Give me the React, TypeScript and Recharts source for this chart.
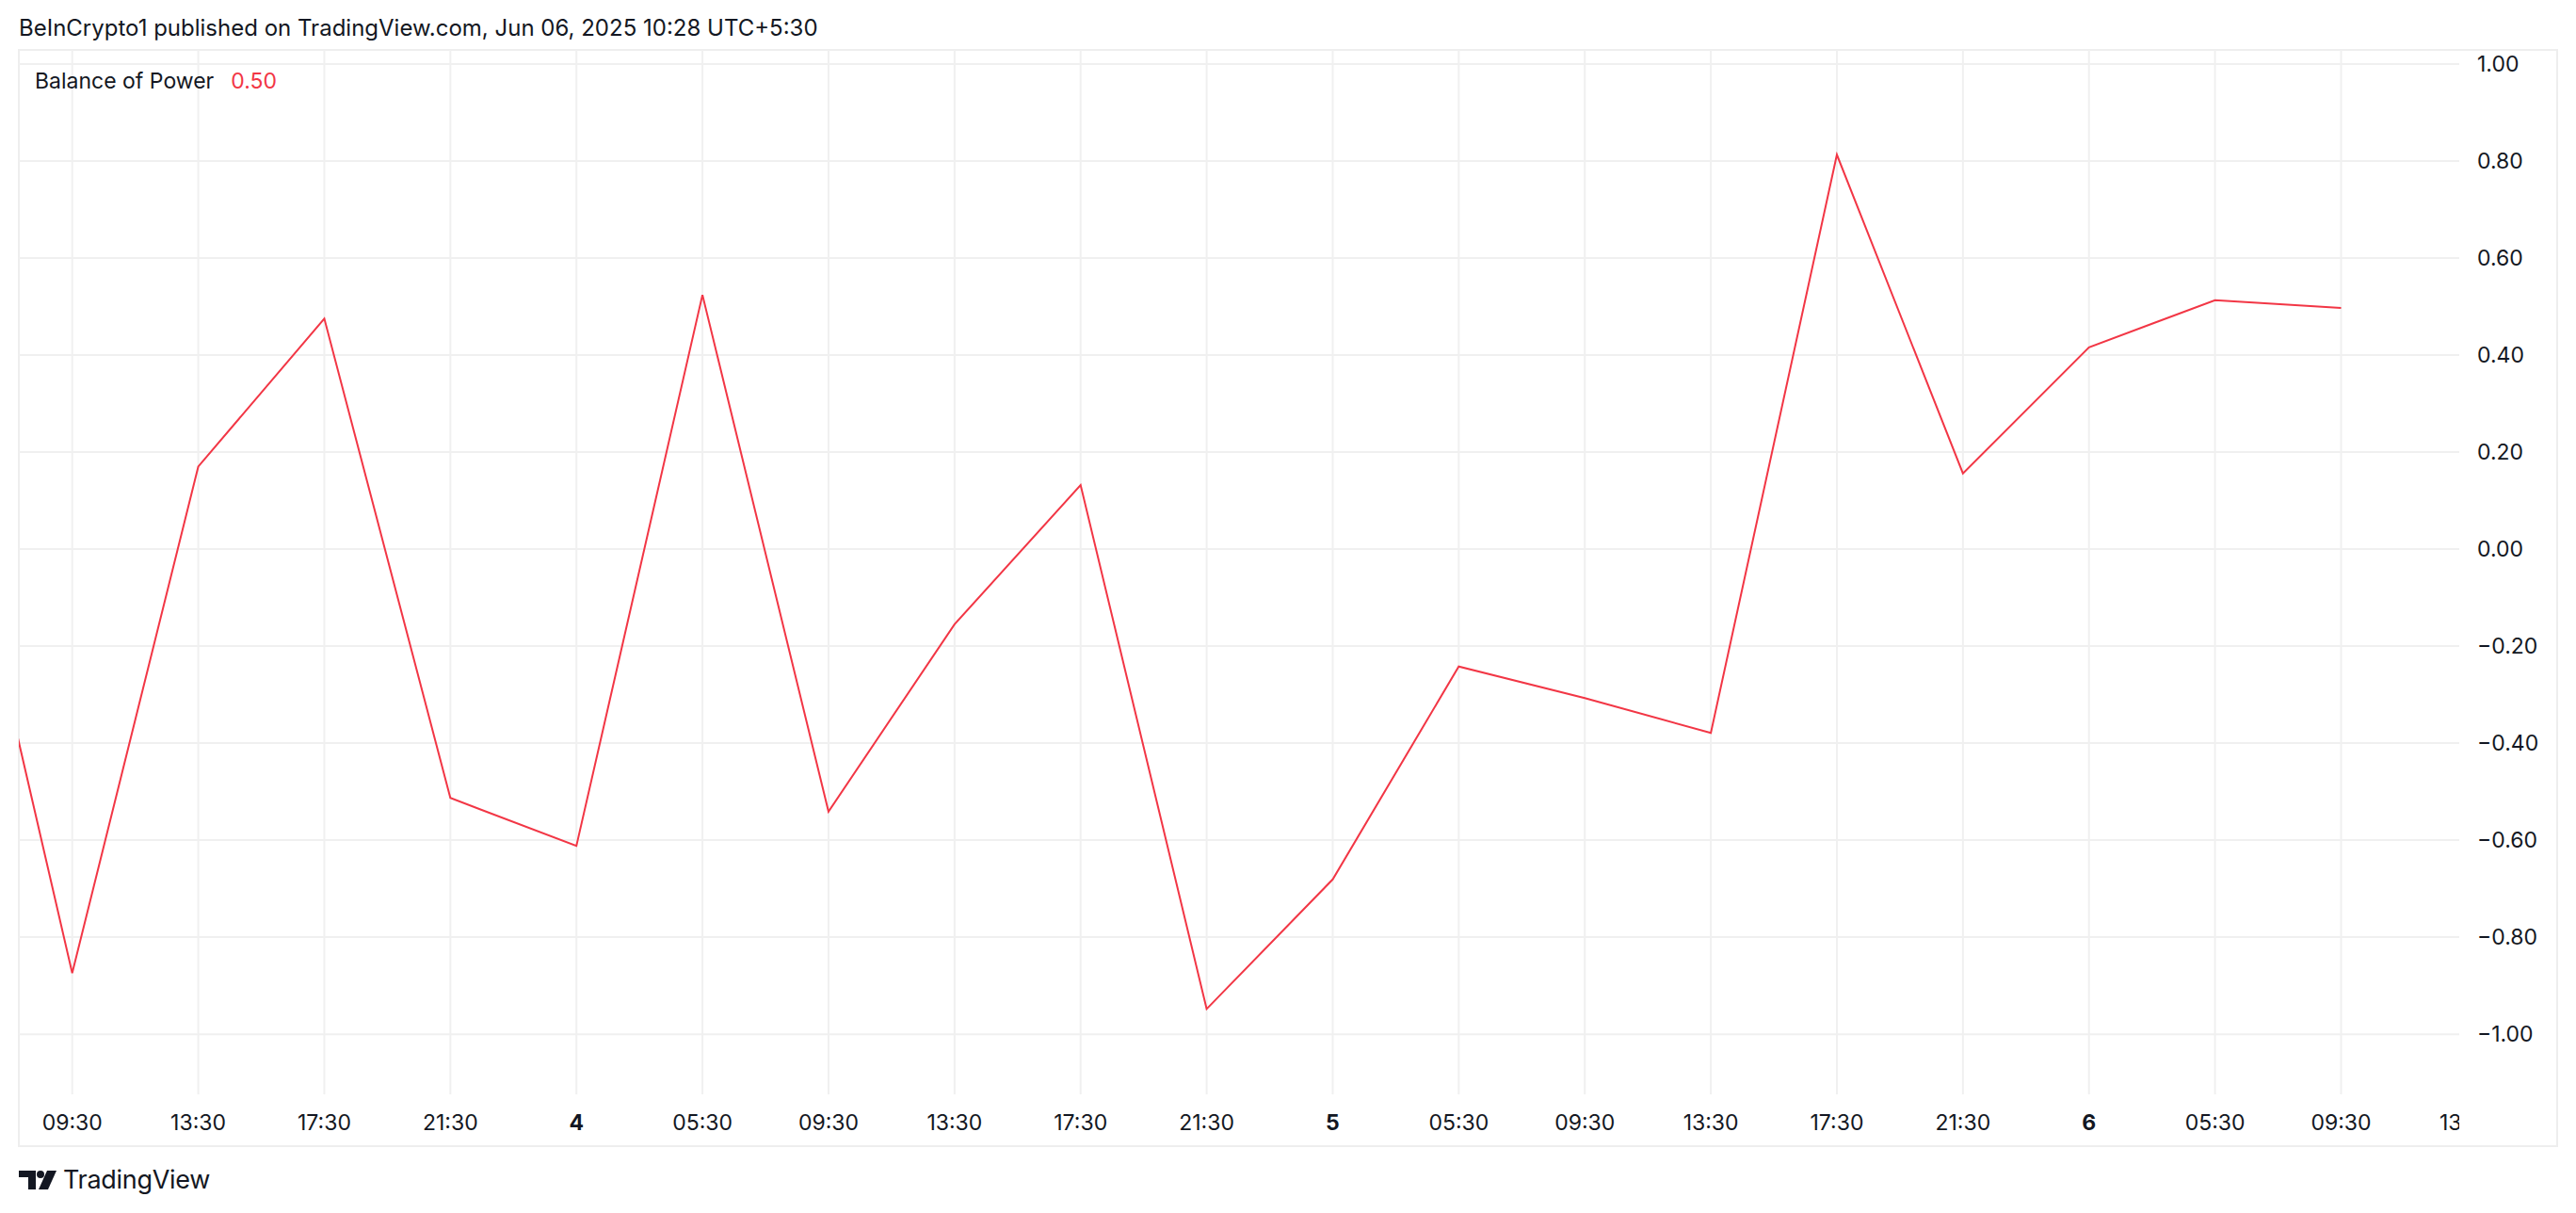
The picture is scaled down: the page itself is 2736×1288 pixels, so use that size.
import { LineChart, Line, XAxis, YAxis, ReferenceLine } from "recharts";

// 4h bars, hours counted from 09:30 on the 3rd (first bar sits just off the left edge)
const hours = [-4, 0, 4, 8, 12, 16, 20, 24, 28, 32, 36, 40, 44, 48, 52, 56, 60, 64, 68, 72];
const balance = [
  0.25, -0.874, 0.17, 0.475, -0.513, -0.612, 0.524, -0.541, -0.155, 0.132, -0.948, -0.681, -0.242, -0.307, -0.379,
  0.813, 0.156, 0.416, 0.513, 0.497,
];

const xTicks = [0, 4, 8, 12, 16, 20, 24, 28, 32, 36, 40, 44, 48, 52, 56, 60, 64, 68, 72, 76];
const xTickLabels = [
  "09:30", "13:30", "17:30", "21:30", "4", "05:30", "09:30", "13:30", "17:30", "21:30",
  "5", "05:30", "09:30", "13:30", "17:30", "21:30", "6", "05:30", "09:30", "13:30",
];
const dayLabels = ["4", "5", "6"];
const yTicks = [1, 0.8, 0.6, 0.4, 0.2, 0, -0.2, -0.4, -0.6, -0.8, -1];

const W = 2736;
const H = 1288;
const FONT = "Inter, 'Noto Sans', sans-serif";
const TEXT = "#131722";
const RED = "#F23645";
const GRID = "#f0f0f0";
const PLOT_RIGHT = 2612;

const data = hours.map((h, i) => ({ h, bop: balance[i] }));

const fmtY = (v: number) => v.toFixed(2).replace("-", "\u2212");

const XTick = (props: any) => {
  const { x, y, payload } = props;
  const label = xTickLabels[xTicks.indexOf(payload.value)];
  const bold = dayLabels.includes(label);
  // clip like TradingView does at the price scale edge
  return (
    <svg x={0} y={0} width={PLOT_RIGHT} height={H} overflow="hidden">
      <text x={x} y={y} dy="0.36em" textAnchor="middle" fontFamily={FONT} fontSize={23} fontWeight={bold ? 700 : 400} fill={TEXT}>
        {label}
      </text>
    </svg>
  );
};

const YTick = (props: any) => {
  const { x, y, payload } = props;
  return (
    <text x={x} y={y} dy="0.36em" textAnchor="start" fontFamily={FONT} fontSize={23} fill={TEXT}>
      {fmtY(payload.value)}
    </text>
  );
};

export default function App() {
  const last = balance[balance.length - 1];
  return (
    <div style={{ position: "absolute", left: 0, top: 0, width: W, height: H, background: "#fff", fontFamily: FONT, color: TEXT }}>
      {/* pane frame */}
      <div
        style={{
          position: "absolute",
          left: 19,
          top: 52,
          width: 2698,
          height: 1166,
          boxSizing: "border-box",
          border: "2px solid #eeeeee",
        }}
      />

      <LineChart width={W} height={H} data={data} margin={{ top: 53, right: 20, bottom: 71, left: 20 }} style={{ position: "absolute", left: 0, top: 0 }}>
        {/* grid only at tick positions, no border lines */}
        {yTicks.map((t) => (
          <ReferenceLine key={"y" + t} y={t} stroke={GRID} strokeWidth={2} />
        ))}
        {xTicks.map((t) => (
          <ReferenceLine key={"x" + t} x={t} stroke={GRID} strokeWidth={2} />
        ))}
        <XAxis
          dataKey="h"
          type="number"
          domain={[-1.694, 75.75]}
          allowDataOverflow
          ticks={xTicks}
          interval={0}
          tickLine={false}
          axisLine={false}
          tickSize={0}
          tickMargin={30}
          height={55}
          tick={<XTick />}
        />
        <YAxis
          orientation="right"
          domain={[-1.124, 1.029]}
          allowDataOverflow
          ticks={yTicks}
          interval={0}
          tickLine={false}
          axisLine={false}
          tickSize={0}
          tickMargin={19}
          width={104}
          tick={<YTick />}
        />
        <Line type="linear" dataKey="bop" stroke={RED} strokeWidth={2} dot={false} activeDot={false} isAnimationActive={false} />
      </LineChart>

      {/* header */}
      <div style={{ position: "absolute", left: 20, top: 15, fontSize: 24, lineHeight: "30px", whiteSpace: "nowrap" }}>
        BeInCrypto1 published on TradingView.com, Jun 06, 2025 10:28 UTC+5:30
      </div>

      {/* indicator legend */}
      <div style={{ position: "absolute", left: 37, top: 71, fontSize: 23, lineHeight: "30px", whiteSpace: "nowrap" }}>
        Balance of Power<span style={{ color: RED, marginLeft: 18 }}>{last.toFixed(2)}</span>
      </div>

      {/* footer logo */}
      <div style={{ position: "absolute", left: 20, top: 1238, display: "flex", alignItems: "center", whiteSpace: "nowrap" }}>
        <svg width={40} height={22} viewBox="0 0 40 22">
          <path d="M0 1 H18 V21 H10 V8 H0 Z" fill={TEXT} />
          <circle cx={23} cy={5} r={4} fill={TEXT} />
          <path d="M30 1 H40 L31 21 H21 Z" fill={TEXT} />
        </svg>
        <span style={{ fontSize: 27, marginLeft: 7, letterSpacing: -0.3, lineHeight: "30px" }}>TradingView</span>
      </div>
    </div>
  );
}
